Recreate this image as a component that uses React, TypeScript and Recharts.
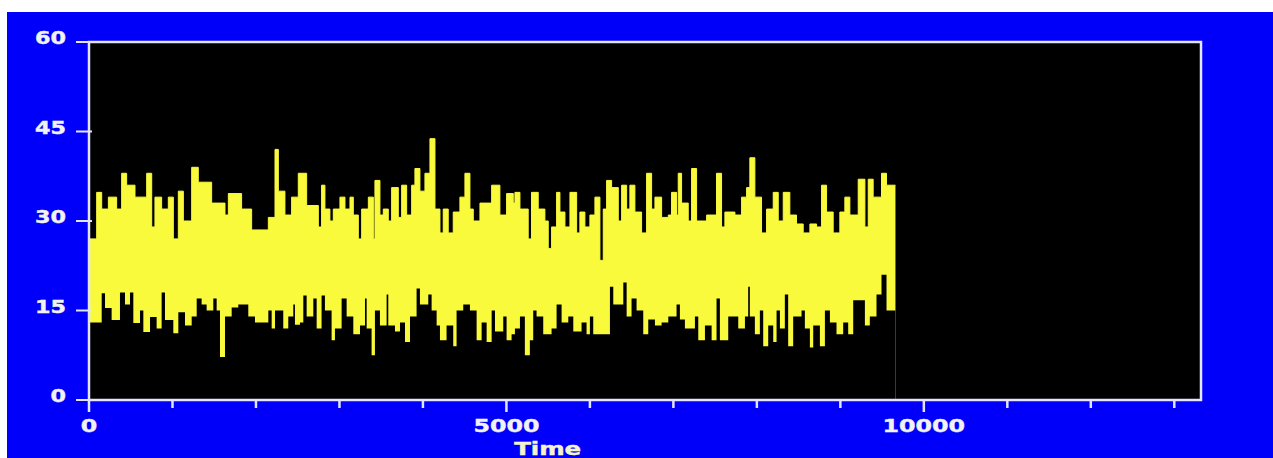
import React from 'react';
import { ComposedChart, Area, XAxis, YAxis, CartesianGrid, ReferenceArea } from 'recharts';

// ---- data: upper and lower envelope of the Time signal ----
const upperTimes = [
  0, 92, 152, 232, 331, 391, 451, 551, 691, 751, 790, 870, 950, 1010, 1070, 1130, 1230, 1309,
  1469, 1629, 1669, 1828, 1948, 2148, 2228, 2268, 2347, 2427, 2507, 2607, 2747, 2786, 2826,
  2886, 2926, 3006, 3066, 3126, 3166, 3226, 3266, 3346, 3406, 3425, 3485, 3525, 3585, 3625,
  3705, 3745, 3805, 3865, 3904, 3964, 4024, 4084, 4144, 4204, 4243, 4303, 4363, 4443, 4503,
  4563, 4603, 4683, 4823, 4922, 5002, 5082, 5102, 5162, 5261, 5301, 5381, 5461, 5501, 5541,
  5601, 5641, 5701, 5761, 5841, 5880, 5940, 6000, 6060, 6120, 6160, 6200, 6260, 6340, 6380,
  6440, 6479, 6539, 6619, 6679, 6739, 6779, 6859, 6939, 6978, 7038, 7058, 7098, 7178, 7218,
  7278, 7398, 7517, 7577, 7617, 7737, 7817, 7877, 7916, 7976, 8056, 8116, 8196, 8256, 8316,
  8395, 8475, 8555, 8635, 8715, 8775, 8835, 8914, 8994, 9054, 9114, 9214, 9294, 9334, 9393,
  9493, 9553, 9660,
];
const upperValues = [
  27, 34.8, 32, 34, 32, 38, 36, 34, 38, 29, 34, 32, 34, 27, 35, 30, 39, 36.5,
  33, 31, 34.6, 32, 28.5, 30.6, 42, 35, 31, 34, 38, 32.6, 29, 36, 32,
  30, 32, 34, 32, 34, 31, 27, 32, 34, 27, 36.8, 31, 32, 30, 35.6,
  30.6, 36, 31, 36, 38.8, 35, 38, 43.8, 32, 28, 32, 28, 31.5, 34, 38,
  32, 30, 33, 36, 31, 34.6, 33, 34.8, 32, 27, 34.8, 32, 30, 25.4, 29,
  34.8, 31.5, 29, 34.8, 28, 31.5, 29, 31, 34, 23.4, 32, 36.8, 35.6, 30, 36,
  32, 36, 31.5, 28, 38, 32, 34, 30.6, 31, 34.8, 31, 38, 33, 30, 38.8,
  30, 31, 38, 29, 31.5, 31, 34, 35.6, 40.6, 34, 28, 32, 34.8, 30, 34.8,
  31, 29.5, 28, 29.5, 29, 36, 31.5, 28, 31.5, 34, 31, 37, 29, 37, 34,
  38, 36, 36,
];

const lowerTimes = [
  0, 12, 152, 192, 271, 371, 431, 491, 531, 611, 651, 731, 810, 870, 910, 1010, 1070, 1150,
  1230, 1290, 1349, 1409, 1489, 1529, 1569, 1629, 1709, 1788, 1908, 1988, 2148, 2188, 2228,
  2327, 2387, 2447, 2467, 2527, 2567, 2607, 2687, 2727, 2786, 2826, 2906, 2946, 3026, 3086,
  3166, 3246, 3306, 3326, 3385, 3425, 3485, 3565, 3585, 3665, 3725, 3785, 3845, 3924, 3964,
  4064, 4104, 4164, 4204, 4283, 4363, 4403, 4483, 4563, 4643, 4703, 4763, 4823, 4863, 4962,
  5002, 5062, 5102, 5162, 5221, 5281, 5321, 5361, 5441, 5541, 5601, 5661, 5741, 5801, 5900,
  5960, 6000, 6040, 6240, 6280, 6400, 6440, 6499, 6559, 6639, 6699, 6779, 6859, 6939, 7038,
  7078, 7138, 7258, 7298, 7378, 7458, 7517, 7557, 7657, 7717, 7777, 7857, 7896, 7916, 7976,
  8036, 8076, 8136, 8196, 8236, 8276, 8335, 8375, 8435, 8535, 8575, 8635, 8675, 8755, 8815,
  8875, 8954, 9034, 9094, 9154, 9294, 9353, 9433, 9493, 9553, 9660,
];
const lowerValues = [
  0, 13, 17.9, 15.4, 13.4, 18, 16, 18, 12.9, 15, 11.4, 13.9, 12, 18, 13.4, 11.2, 14.7, 12.5,
  14, 17, 16, 15, 17, 15, 7.2, 14, 15.5, 16, 14, 13, 15, 12, 15,
  12, 14, 16, 12.6, 13, 17.5, 14, 17, 12, 17.5, 15, 10, 12, 17, 14,
  11, 12.5, 17, 12, 7.5, 15, 12.5, 17.7, 12.5, 11.5, 13, 9.7, 14, 18.7, 16,
  17.7, 15, 12.5, 10, 12.5, 9, 15, 16, 15, 10, 13, 9.7, 15, 11.5, 14,
  10, 11, 12, 14, 7.5, 10, 15, 14, 11, 12, 16, 13, 14, 11.5, 13,
  11, 14, 11, 19, 16, 19.7, 14, 17, 15, 11, 13.5, 12.5, 13, 14, 16,
  13.5, 12, 14, 10, 12.5, 10, 17, 10, 14, 14, 12, 14, 19, 14, 11,
  15, 9, 12.5, 9.7, 15, 12, 17.7, 9, 14, 15, 12, 8.8, 12.5, 9, 15,
  13, 11, 13, 11, 16.7, 12.5, 14, 17.7, 21, 15, 15,
];

const yTicks = [0, 15, 30, 45, 60];
const xTicks = [0, 1000, 2000, 3000, 4000, 5000, 6000, 7000, 8000, 9000, 10000, 11000, 12000, 13000];
const xLabelTicks = [0, 5000, 10000];
const xMax = 13320;
const xTitle = 'Time';

const upperData = upperTimes.map((t, i) => ({ t, v: upperValues[i] }));
const lowerData = lowerTimes.map((t, i) => ({ t, v: lowerValues[i] }));

// ---- styles ----
const BLUE = '#0000fa';
const YELLOW = '#fafa3c';
const AXIS = '#e4e4ff';
const TXT = '#f2f2f2';
const FONT = '"DejaVu Sans", Arial, sans-serif';

const YTick = (props: any) => {
  const { x, y, payload } = props;
  const label = String(payload.value);
  return (
    <g>
      <line x1={x - 13} x2={x + 3} y1={y} y2={y} stroke={AXIS} strokeWidth={2} />
      <text
        x={x - 23}
        y={y + 2}
        textAnchor="end"
        fill={TXT}
        stroke={TXT}
        strokeWidth={0.4}
        fontSize={17}
        fontWeight="bold"
        fontFamily={FONT}
        textLength={label.length * 15.5}
        lengthAdjust="spacingAndGlyphs"
      >
        {label}
      </text>
    </g>
  );
};

const XTick = (props: any) => {
  const { x, y, payload } = props;
  const major = xLabelTicks.includes(payload.value);
  const label = String(payload.value);
  return (
    <g>
      <line x1={x} x2={x} y1={y - 1} y2={y + (major ? 12 : 8)} stroke={AXIS} strokeWidth={2.5} />
      {major && (
        <text
          x={x}
          y={y + 32}
          textAnchor="middle"
          fill={TXT}
          stroke={TXT}
          strokeWidth={0.4}
          fontSize={17}
          fontWeight="bold"
          fontFamily={FONT}
          textLength={label.length * 16.5}
          lengthAdjust="spacingAndGlyphs"
        >
          {label}
        </text>
      )}
    </g>
  );
};

const TimeLabel = (props: any) => {
  const vb = props.viewBox || { x: 82, y: 388, width: 1112, height: 40 };
  return (
    <text
      x={vb.x + vb.width * 0.4125}
      y={vb.y + 55}
      textAnchor="middle"
      fill="#f4f4cc"
      stroke="#f4f4cc"
      strokeWidth={0.4}
      fontSize={17}
      fontWeight="bold"
      fontFamily={FONT}
      textLength={67}
      lengthAdjust="spacingAndGlyphs"
    >
      {xTitle}
    </text>
  );
};

export default function App() {
  return (
    <div style={{ position: 'absolute', left: 7, top: 12, width: 1266, height: 446, background: BLUE }}>
      <ComposedChart
        width={1266}
        height={446}
        margin={{ top: 30, right: 72, bottom: 18, left: 0 }}
      >
        <CartesianGrid horizontal={false} vertical={false} fill="#000" />
        <XAxis
          dataKey="t"
          type="number"
          domain={[0, xMax]}
          ticks={xTicks}
          interval={0}
          height={40}
          tickSize={0}
          tickMargin={0}
          tickLine={false}
          axisLine={false}
          tick={<XTick />}
          label={{ content: (p: any) => <TimeLabel {...p} /> }}
        />
        <YAxis
          type="number"
          domain={[0, 60]}
          ticks={yTicks}
          interval={0}
          width={82}
          tickSize={0}
          tickMargin={0}
          tickLine={false}
          axisLine={false}
          tick={<YTick />}
        />
        <Area
          data={upperData}
          dataKey="v"
          type="stepAfter"
          stroke={YELLOW}
          strokeWidth={1}
          fill={YELLOW}
          fillOpacity={1}
          baseValue={0}
          isAnimationActive={false}
          dot={false}
          activeDot={false}
        />
        <Area
          data={lowerData}
          dataKey="v"
          type="stepAfter"
          stroke="none"
          fill="#000"
          fillOpacity={1}
          baseValue={0}
          isAnimationActive={false}
          dot={false}
          activeDot={false}
        />
        <ReferenceArea x1={0} x2={xMax} y1={0} y2={60} fill="none" stroke={AXIS} strokeWidth={2.5} />
      </ComposedChart>
    </div>
  );
}
